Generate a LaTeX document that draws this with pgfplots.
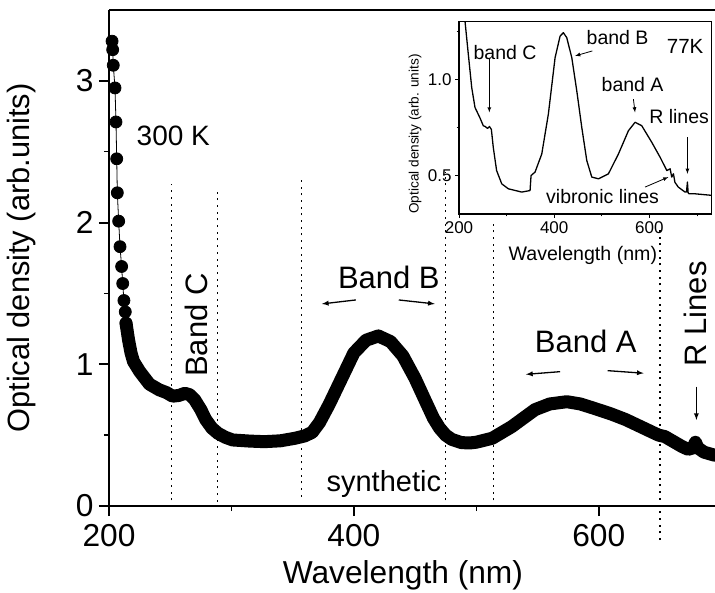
\documentclass[border=0pt]{standalone}
\usepackage{fontspec}
\setmainfont{Liberation Sans}
\usepackage{pgfplots}
\pgfplotsset{compat=1.18}
\begin{document}
\begin{tikzpicture}
\path[use as bounding box] (0,0) rectangle (715pt,592pt);
% main spectrum, 300 K
\begin{axis}[
  at={(109pt,86pt)}, anchor=south west,
  scale only axis, width=606pt, height=496pt,
  xmin=200, xmax=695, ymin=0, ymax=3.5,
  axis x line*=box, axis y line*=left,
  xtick pos=left, ytick pos=left,
  tick align=outside,
  xtick={200,400,600}, minor xtick={300,500},
  ytick={0,1,2,3}, minor ytick={0.5,1.5,2.5},
  major tick length=10pt, minor tick length=5pt,
  axis line style={line width=2pt},
  major tick style={line width=2pt,black},
  minor tick style={line width=1.5pt,black},
  tick label style={font=\fontsize{31.7}{36}\selectfont},
  xticklabel style={yshift=-5pt},
  yticklabel style={xshift=-2pt},
  /pgf/number format/assume math mode=true,
  xlabel={Wavelength (nm)},
  ylabel={Optical density (arb.units)},
  every axis x label/.style={at={(axis description cs:0.485,-0.139)},anchor=center,font=\fontsize{31.7}{36}\selectfont},
  every axis y label/.style={at={(axis description cs:-0.1436,0.5)},anchor=center,rotate=90,font=\fontsize{30.8}{36}\selectfont},
  clip=false,
]
% vertical dotted guides
\foreach \xv/\ya/\yb in {251/0.04/2.27, 288.5/0.03/2.25, 357/0.065/2.30, 475/0.04/2.36, 514/0.04/1.99, 650/-0.24/1.98}{
  \edef\tmp{\noexpand\draw[line width=1.4pt, dash pattern=on 2pt off 4.7pt] (axis cs:\xv,\ya) -- (axis cs:\xv,\yb);}
  \tmp
}
% separate points near 200 nm
\addplot[black, line width=0.8pt, mark=*, mark size=6pt, mark options={solid}] coordinates {
(202.5,3.28)(203,3.22)(203.5,3.11)(204.9,2.95)(205.7,2.71)(206.3,2.45)(206.8,2.21)
(207.9,2.01)(209,1.83)(210.3,1.69)(211.2,1.57)(212.2,1.45)(213.3,1.37)(213.9,1.29)
};
% dense points form a thick band
\addplot[black, line width=13pt, line join=round, line cap=round] coordinates {
(213.9,1.29)(216,1.17)(218,1.08)(220,1.02)(225,0.95)(233,0.86)(241,0.82)(247,0.80)
(252,0.775)(257,0.78)(262,0.795)(266,0.785)(270,0.75)(275,0.68)(279,0.61)(284,0.55)
(289,0.513)(295,0.485)(301,0.466)(315,0.458)(327,0.454)(340,0.46)(352,0.478)(360,0.495)
(366,0.52)(372,0.59)(380,0.72)(390,0.90)(400,1.08)(410,1.17)(420,1.20)(430,1.16)
(440,1.06)(450,0.90)(458,0.75)(465,0.62)(470,0.55)(475,0.50)(480,0.47)(488,0.447)
(495,0.445)(500,0.45)(513,0.478)(529,0.56)(548,0.68)(560,0.72)(574,0.736)(585,0.72)
(596,0.69)(610,0.65)(622,0.61)(633,0.565)(644,0.52)(649,0.50)(654,0.49)(660,0.46)
(668,0.42)(673,0.40)(677,0.41)(679,0.45)(681,0.41)(686,0.38)(694,0.36)(700,0.355)
};
\node[font=\fontsize{28}{32}\selectfont] at (axis cs:252.5,2.61) {300 K};
\node[font=\fontsize{31}{36}\selectfont, rotate=90] at (axis cs:271.4,1.277) {Band C};
\node[font=\fontsize{31}{36}\selectfont] at (axis cs:428.6,1.613) {Band B};
\node[font=\fontsize{31}{36}\selectfont] at (axis cs:589.4,1.164) {Band A};
\node[font=\fontsize{31}{36}\selectfont, rotate=90] at (axis cs:679.2,1.355) {R Lines};
\node[font=\fontsize{29}{33}\selectfont] at (axis cs:424.5,0.155) {synthetic};
\draw[-latex, line width=1.3pt] (axis cs:401.6,1.454) -- (axis cs:373.9,1.426);
\draw[-latex, line width=1.3pt] (axis cs:436.7,1.454) -- (axis cs:466.1,1.426);
\draw[-latex, line width=1.3pt] (axis cs:568.5,0.948) -- (axis cs:540.6,0.929);
\draw[-latex, line width=1.3pt] (axis cs:607.3,0.955) -- (axis cs:636.7,0.937);
\draw[-latex, line width=1.3pt] (axis cs:679.8,0.842) -- (axis cs:679.8,0.607);
\end{axis}
% inset, 77 K
\begin{axis}[
  at={(459pt,378pt)}, anchor=south west,
  scale only axis, width=252.7pt, height=192.3pt,
  xmin=200, xmax=731, ymin=0.30, ymax=1.30,
  axis background/.style={fill=white},
  tick align=outside, xtick pos=left, ytick pos=left,
  xtick={200,400,600}, minor xtick={300,500,700},
  ytick={0.5,1.0}, minor ytick={0.75,1.25},
  major tick length=4pt, minor tick length=2.5pt,
  axis line style={line width=1.2pt},
  major tick style={line width=1pt,black},
  minor tick style={line width=0.8pt,black},
  tick label style={font=\fontsize{17}{20}\selectfont},
  /pgf/number format/assume math mode=true,
  yticklabel style={/pgf/number format/.cd,fixed,fixed zerofill,precision=1},
  xlabel={Wavelength (nm)},
  ylabel={Optical density (arb. units)},
  every axis x label/.style={at={(axis description cs:0.49,-0.216)},anchor=center,font=\fontsize{19.6}{23}\selectfont},
  every axis y label/.style={at={(axis description cs:-0.174,0.416)},anchor=center,rotate=90,font=\fontsize{13.6}{16}\selectfont},
]
\addplot[black, line width=1.3pt, line join=round] coordinates {
(212.6,1.303)(219.6,1.13)(226.7,0.958)(233.6,0.854)(244,0.80)(251,0.759)(255,0.755)
(260,0.745)(264,0.755)(268,0.74)(272,0.647)(279,0.526)(289.8,0.457)(303.7,0.431)
(331.8,0.414)(349.3,0.422)(351.4,0.50)(359.8,0.518)(373.9,0.612)(387.8,0.82)
(401.9,1.113)(412.4,1.225)(419.3,1.243)(426.4,1.217)(437,1.113)(447.5,0.94)(458,0.75)
(468.5,0.578)(479,0.492)(493,0.483)(514,0.509)(535,0.612)(556,0.733)(570,0.777)
(584,0.759)(605,0.673)(622.6,0.595)(636.7,0.526)(643.6,0.535)(647,0.492)(650.6,0.509)
(653.7,0.465)(660.7,0.44)(675,0.414)(678,0.414)(680,0.466)(681.5,0.41)(683.6,0.405)
(696,0.405)(731,0.397)
};
\node[font=\fontsize{19.5}{23}\selectfont] at (axis cs:296.7,1.141) {band C};
\node[font=\fontsize{19.5}{23}\selectfont] at (axis cs:533.3,1.219) {band B};
\node[font=\fontsize{20.5}{24}\selectfont] at (axis cs:675.2,1.169) {77K};
\node[font=\fontsize{19.5}{23}\selectfont] at (axis cs:564.8,0.973) {band A};
\node[font=\fontsize{19.5}{23}\selectfont] at (axis cs:662.6,0.807) {R lines};
\node[font=\fontsize{19.5}{23}\selectfont] at (axis cs:501.7,0.39) {vibronic lines};
\draw[-latex, line width=0.8pt] (axis cs:263.7,1.105) -- (axis cs:263.7,0.828);
\draw[-latex, line width=0.8pt] (axis cs:480.3,1.148) -- (axis cs:443.9,1.122);
\draw[-latex, line width=0.8pt] (axis cs:566.5,0.897) -- (axis cs:570,0.828);
\draw[-latex, line width=0.8pt] (axis cs:680,0.699) -- (axis cs:680,0.509);
\draw[-latex, line width=0.8pt] (axis cs:591,0.44) -- (axis cs:640,0.492);
\end{axis}
\end{tikzpicture}
\end{document}
